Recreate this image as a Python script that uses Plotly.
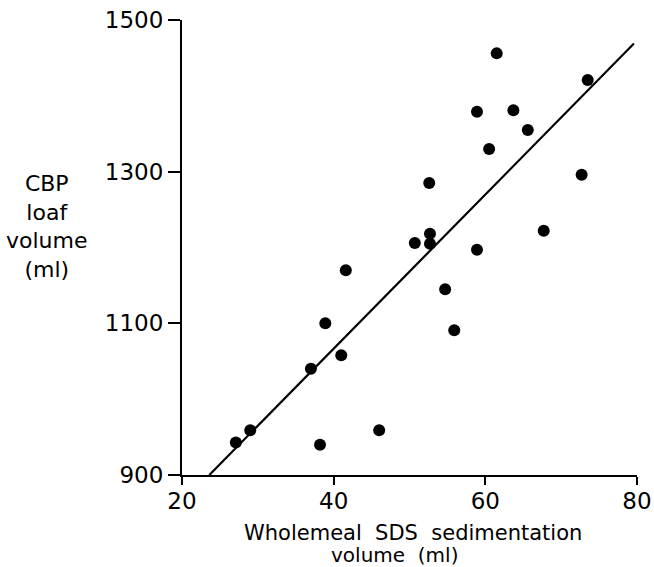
import plotly.graph_objects as go

# Wholemeal SDS sedimentation volume (ml)
sds_volume = [27.1, 29.0, 37.0, 38.2, 38.9, 41.0, 41.6, 46.0, 50.7, 52.7, 52.7,
              52.6, 54.7, 55.9, 58.9, 58.9, 60.5, 61.5, 63.7, 65.6, 67.7, 72.7, 73.5]
# CBP loaf volume (ml)
loaf_volume = [943, 959, 1040, 940, 1100, 1058, 1170, 959, 1206, 1218, 1205,
               1285, 1145, 1091, 1197, 1379, 1330, 1456, 1381, 1355, 1222, 1296, 1421]

# fitted regression line end points
fit_x = [23.6, 79.6]
fit_y = [900, 1469]

x_ticks = [20, 40, 60, 80]
y_ticks = [900, 1100, 1300, 1500]

FONT = "DejaVu Sans"

fig = go.Figure()
fig.add_trace(go.Scatter(x=fit_x, y=fit_y, mode="lines",
                         line=dict(color="black", width=2.2),
                         hoverinfo="skip", cliponaxis=False))
fig.add_trace(go.Scatter(x=sds_volume, y=loaf_volume, mode="markers",
                         marker=dict(color="black", size=12),
                         cliponaxis=False))

fig.update_layout(
    width=654, height=567,
    margin=dict(l=182, r=17, t=20, b=92, autoexpand=False),
    plot_bgcolor="white", paper_bgcolor="white",
    showlegend=False,
    font=dict(family=FONT, color="black", size=21),
    xaxis=dict(range=[20, 80], tickvals=x_ticks, ticktext=[str(v) for v in x_ticks],
               showline=True, linecolor="black", linewidth=2, automargin=False,
               ticks="outside", ticklen=8, tickwidth=2, tickcolor="black",
               ticklabelstandoff=-4, ticklabeloverflow="allow",
               showgrid=False, zeroline=False,
               tickfont=dict(family=FONT, size=23, color="black")),
    yaxis=dict(range=[900, 1500], tickvals=y_ticks, ticktext=[str(v) for v in y_ticks],
               showline=True, linecolor="black", linewidth=2, automargin=False,
               ticks="outside", ticklen=12, tickwidth=2, tickcolor="black",
               ticklabeloverflow="allow",
               showgrid=False, zeroline=False,
               tickfont=dict(family=FONT, size=23, color="black")),
)

fig.add_annotation(xref="paper", yref="paper", x=-0.297, y=0.672,
                   xanchor="center", yanchor="top", align="center", showarrow=False,
                   text="CBP<br>loaf<br>volume<br>(ml)",
                   font=dict(family=FONT, size=22, color="black"))
fig.add_annotation(xref="paper", yref="paper", x=0.507, y=-0.097,
                   xanchor="center", yanchor="top", align="center", showarrow=False,
                   text="Wholemeal  SDS  sedimentation",
                   font=dict(family=FONT, size=21, color="black"))
fig.add_annotation(xref="paper", yref="paper", x=0.466, y=-0.146,
                   xanchor="center", yanchor="top", align="center", showarrow=False,
                   text="volume  (ml)",
                   font=dict(family=FONT, size=20, color="black"))

fig.write_html("out.html", config={"displayModeBar": False},
               post_script="document.body.style.margin='0';")
